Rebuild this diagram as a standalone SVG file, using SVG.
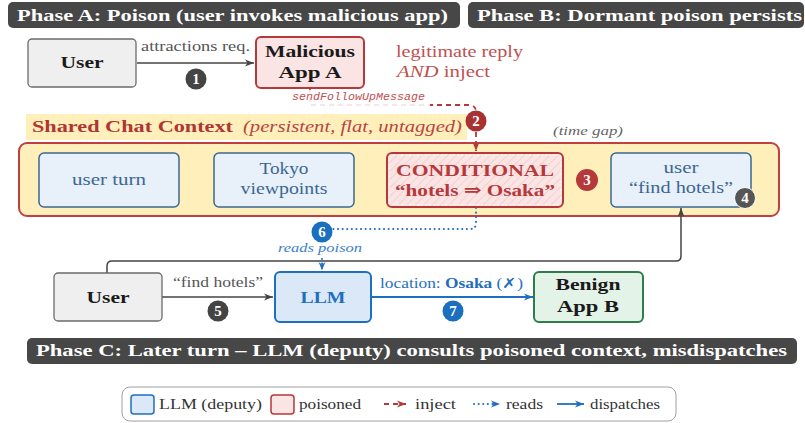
<svg xmlns="http://www.w3.org/2000/svg" width="805" height="423" viewBox="0 0 805 423">
<defs>
<style>
text{font-family:"Liberation Serif","DejaVu Serif",serif;}
.hdr rect{fill:#474747;}
.hdr text{fill:#ffffff;font-weight:bold;font-size:17.5px;}
.ubox{fill:#efefef;stroke:#6b6b6b;stroke-width:1.3;}
.ctxbox{fill:#e8f0f9;stroke:#3d6791;stroke-width:1.5;}
.ctxt{fill:#3d6791;font-size:17.5px;text-anchor:middle;}
.nt{fill:#1a1a1a;font-size:17.5px;font-weight:bold;text-anchor:middle;}
.bt text{fill:#ffffff;font-weight:bold;font-size:15px;text-anchor:middle;}
.lbl{fill:#555555;font-size:14px;}
.red{fill:#c0504f;}
.leg{fill:#333333;font-size:14.5px;}
.cg{fill:none;stroke:#444444;stroke-width:1.5;}
.cr{fill:none;stroke:#b5393b;stroke-width:1.8;stroke-dasharray:5 4;}
.cb{fill:none;stroke:#1f6fbf;stroke-width:1.8;}
.cbd{fill:none;stroke:#1f6fbf;stroke-width:2;stroke-dasharray:0.1 4.5;stroke-linecap:round;}
</style>
<marker id="ag" markerWidth="10" markerHeight="8" refX="9" refY="4" orient="auto" markerUnits="userSpaceOnUse"><path d="M0,0.5 L9,4 L0,7.5 L2.5,4 z" fill="#444444"/></marker>
<marker id="ar" markerWidth="10" markerHeight="8" refX="9" refY="4" orient="auto" markerUnits="userSpaceOnUse"><path d="M0,0.5 L9,4 L0,7.5 L2.5,4 z" fill="#b5393b"/></marker>
<marker id="ab" markerWidth="10" markerHeight="8" refX="9" refY="4" orient="auto" markerUnits="userSpaceOnUse"><path d="M0,0.5 L9,4 L0,7.5 L2.5,4 z" fill="#1f6fbf"/></marker>
<pattern id="hatch" width="6" height="6" patternUnits="userSpaceOnUse" patternTransform="rotate(45)">
<rect width="6" height="6" fill="#fbe4e4"/>
<line x1="0" y1="0" x2="0" y2="6" stroke="#f0c4c4" stroke-width="1.2"/>
</pattern>
</defs>

<!-- phase headers -->
<g id="phaseA" class="hdr"><rect x="8" y="2" width="452" height="26" rx="5"/><text x="17" y="21" textLength="431" lengthAdjust="spacingAndGlyphs">Phase A: Poison (user invokes malicious app)</text></g>
<g id="phaseB" class="hdr"><rect x="468" y="2" width="336" height="26" rx="5"/><text x="477" y="21" textLength="325" lengthAdjust="spacingAndGlyphs">Phase B: Dormant poison persists</text></g>
<g id="phaseC" class="hdr"><rect x="27" y="338" width="770" height="26" rx="5"/><text x="36" y="356" textLength="751" lengthAdjust="spacingAndGlyphs">Phase C: Later turn – LLM (deputy) consults poisoned context, misdispatches</text></g>

<!-- shared context container -->
<g id="context">
<rect x="26" y="114" width="441" height="26" fill="#fff0bb"/>
<text x="32" y="132" font-size="17.5" font-weight="bold" fill="#b03535" textLength="201" lengthAdjust="spacingAndGlyphs">Shared Chat Context</text>
<text x="243" y="132" font-size="16.5" font-style="italic" fill="#b94444" textLength="219" lengthAdjust="spacingAndGlyphs">(persistent, flat, untagged)</text>
<text x="553" y="135" font-size="13.5" font-style="italic" fill="#666666" textLength="70" lengthAdjust="spacingAndGlyphs">(time gap)</text>
<rect x="19" y="143" width="760" height="73" rx="8" fill="#fff0bb" stroke="#c04040" stroke-width="2"/>
</g>

<!-- connectors -->
<g id="connectors">
<path class="cg" d="M137,63 H254" marker-end="url(#ag)"/>
<path class="cr" d="M310,88 V105 H469 Q476,105 476,112 V151" marker-end="url(#ar)"/>
<path class="cbd" d="M476,208 V223 Q476,229 470,229 H322 V269"/>
<path d="M322,270 l-3.5,-8 l3.5,2.5 l3.5,-2.5 z" fill="#1f6fbf"/>
<path class="cg" d="M107,273 V266 Q107,261 112,261 H676 Q681,261 681,256 V208" marker-end="url(#ag)"/>
<path class="cg" d="M162,297 H273" marker-end="url(#ag)"/>
<path class="cb" d="M371,297 H533" marker-end="url(#ab)"/>
<text x="141" y="51" class="lbl" textLength="109" lengthAdjust="spacingAndGlyphs">attractions req.</text>
<rect x="289" y="90" width="141" height="17" fill="#ffffff" opacity="0.88"/>
<text x="292" y="100" font-size="11.5" font-style="italic" fill="#c0504f" textLength="133" lengthAdjust="spacingAndGlyphs" style="font-family:'Liberation Mono',monospace">sendFollowUpMessage</text>
<rect x="276" y="242" width="89" height="14" fill="#ffffff" opacity="0.9"/>
<text x="320" y="252" font-size="13" font-style="italic" fill="#3a80c8" text-anchor="middle" textLength="84" lengthAdjust="spacingAndGlyphs">reads poison</text>
<text x="218" y="287" class="lbl" text-anchor="middle" textLength="90" lengthAdjust="spacingAndGlyphs">“find hotels”</text>
<text x="380" y="288" font-size="14" fill="#1f6fbf" textLength="143" lengthAdjust="spacingAndGlyphs">location: <tspan font-weight="bold">Osaka</tspan> (✗)</text>
</g>

<!-- phase A nodes -->
<g id="userA"><rect class="ubox" x="28" y="39" width="108" height="48" rx="4"/><text class="nt" x="82" y="68" textLength="43" lengthAdjust="spacingAndGlyphs">User</text></g>
<g id="appA"><rect x="256" y="37" width="108" height="51" rx="5" fill="#fbe4e4" stroke="#b5393b" stroke-width="2"/><text class="nt" x="310" y="57" textLength="90" lengthAdjust="spacingAndGlyphs">Malicious</text><text class="nt" x="310" y="78" textLength="63" lengthAdjust="spacingAndGlyphs">App A</text></g>
<g id="note">
<text x="396" y="57" font-size="17.5" class="red" textLength="127" lengthAdjust="spacingAndGlyphs">legitimate reply</text>
<text x="397" y="77" font-size="17.5" class="red" textLength="93" lengthAdjust="spacingAndGlyphs"><tspan font-style="italic">AND</tspan> inject</text>
</g>

<!-- context items -->
<g id="userTurn"><rect class="ctxbox" x="39" y="153" width="140" height="54" rx="5"/><text class="ctxt" x="109" y="185" textLength="74" lengthAdjust="spacingAndGlyphs">user turn</text></g>
<g id="tokyo"><rect class="ctxbox" x="214" y="153" width="140" height="54" rx="5"/><text class="ctxt" x="284" y="174" textLength="49" lengthAdjust="spacingAndGlyphs">Tokyo</text><text class="ctxt" x="284" y="194" textLength="87" lengthAdjust="spacingAndGlyphs">viewpoints</text></g>
<g id="conditional">
<rect x="387" y="153" width="176" height="54" rx="5" fill="url(#hatch)" stroke="#b5393b" stroke-width="2"/>
<rect x="389" y="155" width="172" height="50" rx="4" fill="none" stroke="#ffffff" stroke-width="0.7" stroke-dasharray="2 2"/>
<text x="475" y="176" font-size="17.5" font-weight="bold" fill="#b5393b" text-anchor="middle" textLength="158" lengthAdjust="spacingAndGlyphs">CONDITIONAL</text>
<text x="475" y="196" font-size="17.5" font-weight="bold" fill="#b5393b" text-anchor="middle" textLength="160" lengthAdjust="spacingAndGlyphs">“hotels ⇒ Osaka”</text>
</g>
<g id="userFind"><rect class="ctxbox" x="611" y="153" width="140" height="54" rx="5"/><text class="ctxt" x="681" y="173" textLength="35" lengthAdjust="spacingAndGlyphs">user</text><text class="ctxt" x="681" y="193" textLength="104" lengthAdjust="spacingAndGlyphs">“find hotels”</text></g>

<!-- phase C nodes -->
<g id="userC"><rect class="ubox" x="54" y="273" width="108" height="48" rx="4"/><text class="nt" x="108" y="303" textLength="43" lengthAdjust="spacingAndGlyphs">User</text></g>
<g id="llm"><rect x="275" y="272" width="96" height="50" rx="5" fill="#dae8f7" stroke="#1f6fbf" stroke-width="2"/><text x="323" y="303" font-size="17.5" font-weight="bold" fill="#1f6fbf" text-anchor="middle" textLength="45" lengthAdjust="spacingAndGlyphs">LLM</text></g>
<g id="appB"><rect x="534" y="272" width="109" height="50" rx="5" fill="#e3f3e8" stroke="#2e7d4a" stroke-width="2"/><text class="nt" x="588" y="290" textLength="65" lengthAdjust="spacingAndGlyphs">Benign</text><text class="nt" x="588" y="312" textLength="62" lengthAdjust="spacingAndGlyphs">App B</text></g>

<!-- badges -->
<g id="badges" class="bt">
<g id="b1"><circle cx="196" cy="79" r="10.5" fill="#444444"/><text x="196" y="84">1</text></g>
<g id="b2"><circle cx="476" cy="121" r="10.5" fill="#a83232"/><text x="476" y="126">2</text></g>
<g id="b3"><circle cx="587" cy="180" r="11" fill="#b5393b"/><text x="587" y="185">3</text></g>
<g id="b4"><circle cx="745" cy="198" r="10.5" fill="#555555" stroke="#ffffff" stroke-width="1"/><text x="745" y="203">4</text></g>
<g id="b5"><circle cx="218" cy="311" r="10.5" fill="#444444"/><text x="218" y="316">5</text></g>
<g id="b6"><circle cx="322" cy="232" r="10.5" fill="#1a6fbe"/><text x="322" y="237">6</text></g>
<g id="b7"><circle cx="453" cy="311" r="10.5" fill="#1a6fbe"/><text x="453" y="316">7</text></g>
</g>

<!-- legend -->
<g id="legend">
<rect x="122" y="387" width="554" height="34" rx="8" fill="#ffffff" stroke="#a0a0a0" stroke-width="1"/>
<rect x="131" y="395" width="23" height="19" rx="3" fill="#dae8f7" stroke="#1f6fbf" stroke-width="1.5"/>
<text x="159" y="409" class="leg" textLength="103" lengthAdjust="spacingAndGlyphs">LLM (deputy)</text>
<rect x="271" y="395" width="23" height="19" rx="3" fill="#fbe4e4" stroke="#b5393b" stroke-width="1.5"/>
<text x="299" y="409" class="leg" textLength="62" lengthAdjust="spacingAndGlyphs">poisoned</text>
<path d="M384,404 H406" fill="none" stroke="#b5393b" stroke-width="2" stroke-dasharray="5 4" marker-end="url(#ar)"/>
<text x="415" y="409" class="leg" textLength="41" lengthAdjust="spacingAndGlyphs">inject</text>
<path d="M474,404 H500" class="cbd" marker-end="url(#ab)"/>
<text x="506" y="409" class="leg" textLength="37" lengthAdjust="spacingAndGlyphs">reads</text>
<path d="M557,404 H584" class="cb" stroke-width="2" marker-end="url(#ab)"/>
<text x="590" y="409" class="leg" textLength="70" lengthAdjust="spacingAndGlyphs">dispatches</text>
</g>
</svg>
